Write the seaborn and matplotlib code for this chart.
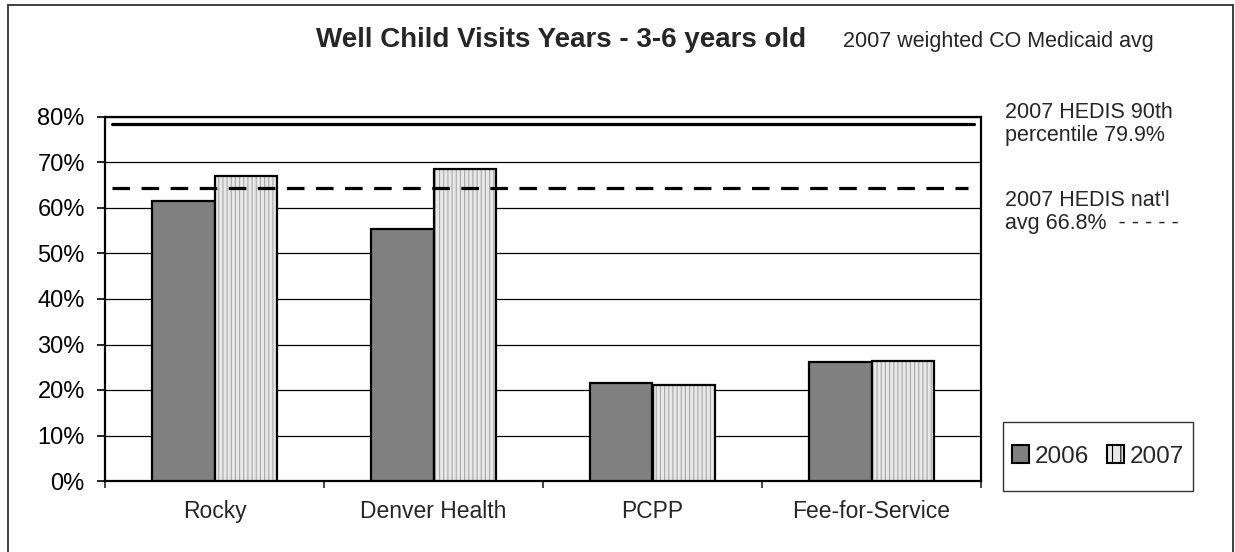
import numpy as np
import pandas as pd
import matplotlib
matplotlib.use("Agg")
import matplotlib.pyplot as plt
import seaborn as sns
from matplotlib.patches import Rectangle, Patch
from matplotlib.ticker import PercentFormatter

# ---- data ----
categories = ["Rocky", "Denver Health", "PCPP", "Fee-for-Service"]
years = ["2006", "2007"]
values_2006 = [61.6, 55.4, 21.5, 26.1]
values_2007 = [67.0, 68.5, 21.1, 26.4]
hedis_90th = 78.4
hedis_natl = 64.5
yticks = [0, 10, 20, 30, 40, 50, 60, 70, 80]

title = "Well Child Visits Years - 3-6 years old"
note_medicaid = "2007 weighted CO Medicaid avg"
note_90th = ["2007 HEDIS 90th", "percentile 79.9%"]
note_natl = ["2007 HEDIS nat'l", "avg 66.8%  - - - - -"]

sns.set_style("white")
plt.rcParams['font.family'] = ['Liberation Sans', 'DejaVu Sans']
plt.rcParams['hatch.linewidth'] = 0.8

df = pd.DataFrame({
    "Plan": categories * 2,
    "Year": [years[0]] * len(categories) + [years[1]] * len(categories),
    "Rate": values_2006 + values_2007,
})

W, H = 1235, 552
fig = plt.figure(figsize=(W / 100, H / 100), dpi=100)
ax = fig.add_axes([105 / W, 1 - 481 / H, (981 - 105) / W, (481 - 117) / H])

sns.barplot(data=df, x="Plan", y="Rate", hue="Year", order=categories,
            hue_order=years, palette={"2006": "#808080", "2007": "#e8e8e8"},
            width=0.575, edgecolor="black", linewidth=1.6, saturation=1,
            legend=False, ax=ax, zorder=3)

# hatch for 2007 bars, with black outline on top
for p in ax.containers[1]:
    p.set_hatch("||||")
    p.set_edgecolor("#a8a8a8")
    p.set_linewidth(0)
    ax.add_patch(Rectangle(p.get_xy(), p.get_width(), p.get_height(),
                           fill=False, edgecolor="black", linewidth=1.6, zorder=3.5))

ax.set_ylim(0, 80)
ax.set_xlim(-0.5, len(categories) - 0.5)
ax.set_yticks(yticks)
ax.yaxis.set_major_formatter(PercentFormatter(decimals=0))
ax.set_xlabel("")
ax.set_ylabel("")
ax.set_axisbelow(True)
ax.yaxis.grid(True, color="black", linewidth=0.9)
ax.xaxis.grid(False)

ax.tick_params(axis="y", direction="out", length=6, width=1.2, labelsize=17,
               pad=8.5, left=True, colors="black")
ax.tick_params(axis="x", which="major", length=0, labelsize=16.5, pad=14)
ax.set_xticks(np.arange(-0.5, len(categories), 1.0), minor=True)
ax.tick_params(axis="x", which="minor", direction="out", length=5, width=1.2,
               bottom=True)
for s in ax.spines.values():
    s.set_visible(True)
    s.set_color("black")
    s.set_linewidth(1.6)

# reference lines
ax.axhline(hedis_90th, xmin=0.008, xmax=0.992, color="black", lw=2.3, zorder=4)
ax.axhline(hedis_natl, xmin=0.008, xmax=0.985, color="black", lw=2.3,
           linestyle=(0, (5.5, 3.6)), zorder=4)

# texts
fig.text(561 / W, 1 - 40 / H, title, ha="center", va="center",
         fontsize=20, fontweight="bold")
fig.text(843 / W, 1 - 42 / H, note_medicaid, ha="left", va="center", fontsize=15.5)
fig.text(1005 / W, 1 - 112 / H, note_90th[0], ha="left", va="center", fontsize=15.5)
fig.text(1005 / W, 1 - 136 / H, note_90th[1], ha="left", va="center", fontsize=15.5)
fig.text(1005 / W, 1 - 200 / H, note_natl[0], ha="left", va="center", fontsize=15.5)
fig.text(1005 / W, 1 - 223 / H, note_natl[1], ha="left", va="center", fontsize=15.5)

# legend
handles = [Patch(facecolor="#808080", edgecolor="black", linewidth=1.5, label=years[0]),
           Patch(facecolor="#e8e8e8", edgecolor="black", linewidth=1.5, hatch="||",
                 label=years[1])]
fig.legend(handles=handles, loc="center", ncol=2,
           bbox_to_anchor=(1098 / W, 1 - 456.5 / H), bbox_transform=fig.transFigure,
           frameon=False, fontsize=17.5, handlelength=0.72, handleheight=0.72,
           handletextpad=0.25, columnspacing=0.7, borderpad=0)
fig.add_artist(Rectangle((1003 / W, 1 - 491 / H), 190 / W, 69 / H,
                         transform=fig.transFigure, fill=False,
                         edgecolor="#333333", linewidth=1.0))

# outer frame
fig.add_artist(Rectangle((8 / W, -0.05), 1225 / W, 1.05 - 5 / H,
                         transform=fig.transFigure, fill=False,
                         edgecolor="#303030", linewidth=1.3))

fig.savefig("out.png", dpi=100)
